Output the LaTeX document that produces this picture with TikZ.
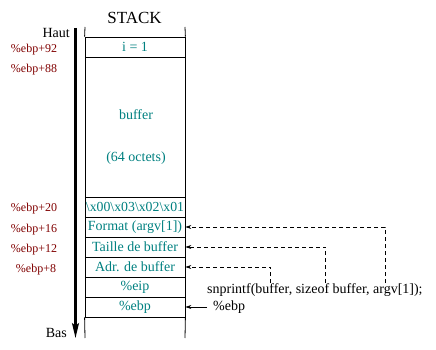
\documentclass[tikz,border=0pt]{standalone}
\usepackage{fontspec}
\setmainfont{Liberation Serif}
\usetikzlibrary{arrows.meta}
\definecolor{tealc}{RGB}{0,128,128}
\definecolor{darkr}{RGB}{128,0,0}
\begin{document}
\begin{tikzpicture}[x=1pt,y=-1pt,
 cell/.style={draw, line width=0.8pt, minimum width=100pt, minimum height=20pt, inner sep=0pt, text=tealc, font=\fontsize{14}{15}\selectfont},
 celltxt/.style={text=tealc, inner sep=0pt, font=\fontsize{14}{15}\selectfont},
 offs/.style={text=darkr, inner sep=0pt, font=\fontsize{12}{13}\selectfont},
 lbl/.style={inner sep=0pt, font=\fontsize{14}{15}\selectfont},
 note/.style={inner sep=0pt, font=\fontsize{14}{15}\selectfont},
 ptr/.style={dash pattern=on 4pt off 3pt, line width=0.6pt, -{Stealth[length=6pt,width=4pt]}},
 sptr/.style={line width=0.6pt, -{Stealth[length=6pt,width=4pt]}},
]
\useasboundingbox (0,0) rectangle (436,350);
% title
\node[inner sep=0pt, font=\fontsize{17}{18}\selectfont] (title) at (134.5,17.5) {STACK};
% cells
\node[cell] (c1) at (135,47) {i = 1};
\node[cell, minimum height=140pt] (buf) at (135,127) {};
\node[celltxt] (buft) at (136,115) {buffer};
\node[celltxt] (bufs) at (136,158) {(64 octets)};
\node[cell, font=\fontsize{13.8}{15}\selectfont] (hex) at (135,207) {\textbackslash x00\textbackslash x03\textbackslash x02\textbackslash x01};
\node[cell] (fmt) at (135,227) {Format (argv[1])};
\node[cell] (tai) at (135,247) {Taille de buffer};
\node[cell] (adr) at (135,267) {Adr. de buffer};
\node[cell] (eip) at (135,287) {\%eip};
\node[cell] (ebp) at (135,307) {\%ebp};
% open vertical ends
\coordinate (tl) at (85,27);
\coordinate (tr) at (185,27);
\coordinate (bl) at (85,338);
\coordinate (br) at (185,338);
\draw[line width=0.8pt] (tl) -- (c1.north west) (tr) -- (c1.north east)
  (ebp.south west) -- (bl) (ebp.south east) -- (br);
% big arrow
\coordinate (atop) at (75.5,28);
\coordinate (abot) at (75.5,338);
\draw[line width=2.2pt, -{Stealth[length=15pt,width=7pt,inset=3pt]}] (atop) -- (abot);
\node[lbl, anchor=east] (haut) at (70,33) {Haut};
\node[lbl, anchor=east] (bas) at (67,333) {Bas};
% offsets
\node[offs] (o92) at (34,50) {\%ebp+92};
\node[offs] (o88) at (34,70) {\%ebp+88};
\node[offs] (o20) at (34,209) {\%ebp+20};
\node[offs] (o16) at (34,229.5) {\%ebp+16};
\node[offs] (o12) at (34,250) {\%ebp+12};
\node[offs] (o8) at (36,270) {\%ebp+8};
% call
\node[note, anchor=west] (call) at (207,290) {snprintf(buffer, sizeof buffer, argv[1]);};
\coordinate (p1) at (270.5,283);
\coordinate (p2) at (325.5,283);
\coordinate (p3) at (385,283);
\draw[ptr] (p3) |- (fmt.east);
\draw[ptr] (p2) |- (tai.east);
\draw[ptr] (p1) |- (adr.east);
% ebp pointer
\node[note, anchor=west] (ebpl) at (213,307) {\%ebp};
\draw[sptr] ([xshift=-6pt]ebpl.west) -- (ebp.east);
\end{tikzpicture}
\end{document}
